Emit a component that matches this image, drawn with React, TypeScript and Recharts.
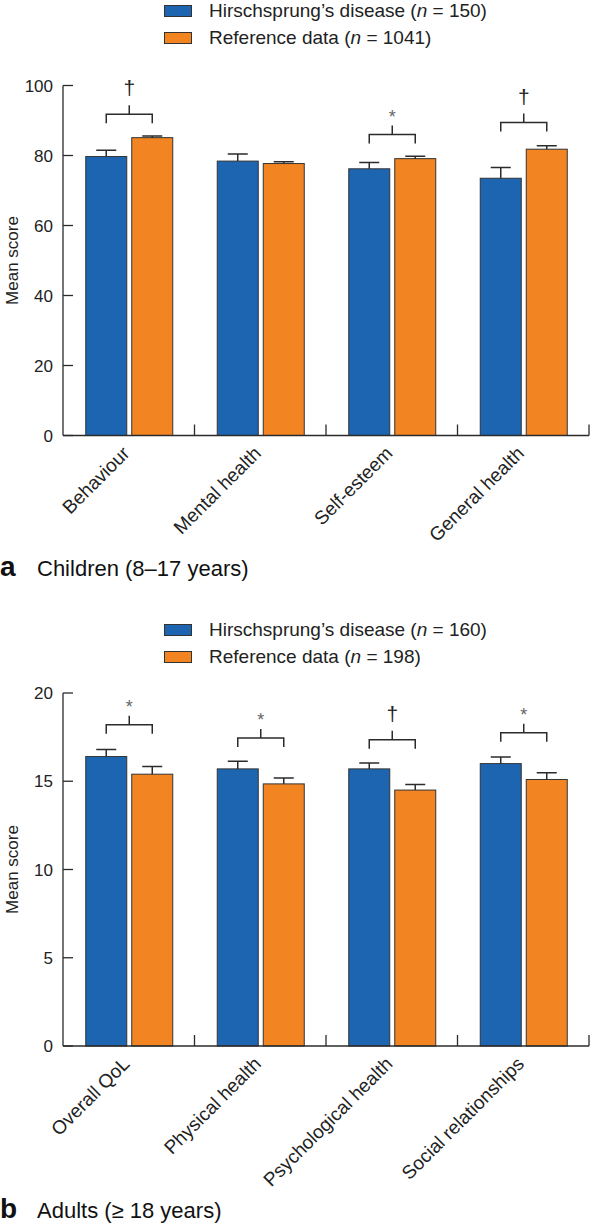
import React from "react";
import { BarChart, Bar, XAxis, YAxis } from "recharts";

// children (KIDSCREEN) – panel a
const childDomains = ["Behaviour", "Mental health", "Self-esteem", "General health"];
const childHd = [79.7, 78.4, 76.2, 73.5];
const childHdErr = [1.8, 2.0, 1.8, 3.1];
const childRef = [85.1, 77.7, 79.1, 81.8];
const childRefErr = [0.5, 0.5, 0.7, 1.0];
const childBracket = [91.8, null, 86.0, 89.4];
const childMark = ["†", "", "*", "†"];
const childTicks = [0, 20, 40, 60, 80, 100];
const childLegend = ["Hirschsprung’s disease (n = 150)", "Reference data (n = 1041)"];

// adults (WHOQOL-BREF) – panel b
const adultDomains = ["Overall QoL", "Physical health", "Psychological health", "Social relationships"];
const adultHd = [16.4, 15.7, 15.7, 16.0];
const adultHdErr = [0.4, 0.43, 0.34, 0.38];
const adultRef = [15.4, 14.85, 14.5, 15.1];
const adultRefErr = [0.43, 0.34, 0.32, 0.38];
const adultBracket = [18.2, 17.45, 17.35, 17.75];
const adultMark = ["*", "*", "†", "*"];
const adultTicks = [0, 5, 10, 15, 20];
const adultLegend = ["Hirschsprung’s disease (n = 160)", "Reference data (n = 198)"];

const FONT = "'Liberation Sans', Arial, Helvetica, sans-serif";
const BLUE = "#1d65b1";
const ORANGE = "#f28522";
const INK = "#2b2b2b";
const BAR_GAP = 5;

function buildRows(domains, hd, hdErr, ref, refErr, bracket, mark) {
  return domains.map((d, i) => ({
    domain: d,
    hd: hd[i],
    hdErr: hdErr[i],
    ref: ref[i],
    refErr: refErr[i],
    bracket: bracket[i],
    mark: mark[i],
  }));
}

const childRows = buildRows(childDomains, childHd, childHdErr, childRef, childRefErr, childBracket, childMark);
const adultRows = buildRows(adultDomains, adultHd, adultHdErr, adultRef, adultRefErr, adultBracket, adultMark);

function valueTick(p) {
  const { x, y, payload } = p;
  return (
    <g>
      <line x1={x} y1={y} x2={x + 10} y2={y} stroke={INK} strokeWidth={1.3} />
      <text x={x - 10} y={y} dy="0.36em" textAnchor="end" fontSize={17} fontFamily={FONT} fill="#222">
        {payload.value}
      </text>
    </g>
  );
}

function categoryTick(p) {
  const { x, y, payload, width, visibleTicksCount } = p;
  const band = width && visibleTicksCount ? width / visibleTicksCount : 131.5;
  const lx = x + 2;
  const ly = y + 19;
  return (
    <g>
      <line x1={x + band / 2} y1={y} x2={x + band / 2} y2={y - 11} stroke={INK} strokeWidth={1.3} />
      <text
        x={lx}
        y={ly}
        transform={`rotate(-45, ${lx}, ${ly})`}
        textAnchor="end"
        fontSize={19}
        fontFamily={FONT}
        fill="#222"
      >
        {payload.value}
      </text>
    </g>
  );
}

function withItalicN(label) {
  const m = /^(.*\()n(.*)$/.exec(label);
  if (!m) return label;
  return (
    <>
      {m[1]}
      <i>n</i>
      {m[2]}
    </>
  );
}

function LegendBlock({ labels, top }) {
  const colors = [BLUE, ORANGE];
  return (
    <div style={{ position: "absolute", left: 164, top, fontFamily: FONT, fontSize: 19, color: "#222" }}>
      {labels.map((l, i) => (
        <div key={l} style={{ display: "flex", alignItems: "center", height: 27 }}>
          <span
            style={{
              display: "inline-block",
              width: 28,
              height: 12,
              background: colors[i],
              border: "1px solid #333",
              boxSizing: "border-box",
              marginRight: 17,
            }}
          />
          <span style={{ whiteSpace: "nowrap" }}>{withItalicN(l)}</span>
        </div>
      ))}
    </div>
  );
}

// bar with its upward error whisker; the reference bar also carries the bracket
function makeShape(valueKey, errKey, fill, withBracket) {
  return (p) => {
    const { x, y, width, height, payload } = p;
    const row = payload || {};
    const perUnit = height / row[valueKey];
    const base = y + height;
    const cx = x + width / 2;
    const errTop = base - (row[valueKey] + row[errKey]) * perUnit;
    let bracket = null;
    if (withBracket && row.bracket != null) {
      const level = base - row.bracket * perUnit;
      const left = x - BAR_GAP - width / 2;
      const right = cx;
      const mid = (left + right) / 2;
      const isStar = row.mark === "*";
      bracket = (
        <g>
          <path
            d={`M${left},${level + 9} V${level} H${right} V${level + 9} M${mid},${level} V${level - 9}`}
            fill="none"
            stroke={INK}
            strokeWidth={1.5}
          />
          <text
            x={mid}
            y={isStar ? level - 12 : level - 19}
            textAnchor="middle"
            fontSize={isStar ? 18 : 21}
            fontFamily={FONT}
            fill={isStar ? "#666" : "#222"}
          >
            {row.mark}
          </text>
        </g>
      );
    }
    return (
      <g>
        <rect x={x} y={y} width={width} height={height} fill={fill} stroke="#333" strokeWidth={1} />
        <path d={`M${cx},${y} V${errTop} M${cx - 10},${errTop} H${cx + 10}`} stroke={INK} strokeWidth={1.5} fill="none" />
        {bracket}
      </g>
    );
  };
}

function Panel({ rows, ticks, max, top, height, marginTop, plotHeight, xHeight }) {
  return (
    <div style={{ position: "absolute", left: 0, top, width: 593, height }}>
      <BarChart
        width={593}
        height={height}
        data={rows}
        margin={{ top: marginTop, right: 4, left: 3, bottom: height - marginTop - xHeight - plotHeight }}
        barCategoryGap={22.75}
        barGap={BAR_GAP}
      >
        <XAxis
          dataKey="domain"
          axisLine={{ stroke: INK, strokeWidth: 1.3 }}
          tickLine={false}
          tickSize={0}
          tickMargin={0}
          height={xHeight}
          interval={0}
          tick={categoryTick}
        />
        <YAxis
          domain={[0, max]}
          ticks={ticks}
          width={60}
          axisLine={{ stroke: INK, strokeWidth: 1.3 }}
          tickLine={false}
          tickSize={0}
          tickMargin={0}
          tick={valueTick}
        />
        <Bar dataKey="hd" shape={makeShape("hd", "hdErr", BLUE, false)} isAnimationActive={false} />
        <Bar dataKey="ref" shape={makeShape("ref", "refErr", ORANGE, true)} isAnimationActive={false} />
      </BarChart>
      <svg style={{ position: "absolute", left: 0, top: 0 }} width={30} height={height}>
        <text
          x={12}
          y={marginTop + plotHeight / 2}
          transform={`rotate(-90, 12, ${marginTop + plotHeight / 2})`}
          textAnchor="middle"
          dy="0.35em"
          fontSize={17}
          fontFamily={FONT}
          fill="#222"
        >
          Mean score
        </text>
      </svg>
    </div>
  );
}

function Caption({ top, letter, text }) {
  return (
    <svg style={{ position: "absolute", left: 0, top }} width={593} height={40}>
      <text x={0} y={30} fontFamily={FONT} fill="#111">
        <tspan fontSize={28} fontWeight="bold">{letter}</tspan>
        <tspan x={37} fontSize={22}>{text}</tspan>
      </text>
    </svg>
  );
}

export default function App() {
  return (
    <div style={{ position: "absolute", left: 0, top: 0, width: 593, height: 1231, background: "#fff", fontFamily: FONT }}>
      <Panel rows={childRows} ticks={childTicks} max={100} top={0} height={560} marginTop={85.5} plotHeight={350} xHeight={100} />
      <LegendBlock labels={childLegend} top={-3} />
      <Caption top={546} letter="a" text="Children (8–17 years)" />
      <Panel rows={adultRows} ticks={adultTicks} max={20} top={600} height={600} marginTop={93} plotHeight={353} xHeight={120} />
      <LegendBlock labels={adultLegend} top={616} />
      <Caption top={1188} letter="b" text="Adults (≥ 18 years)" />
    </div>
  );
}
